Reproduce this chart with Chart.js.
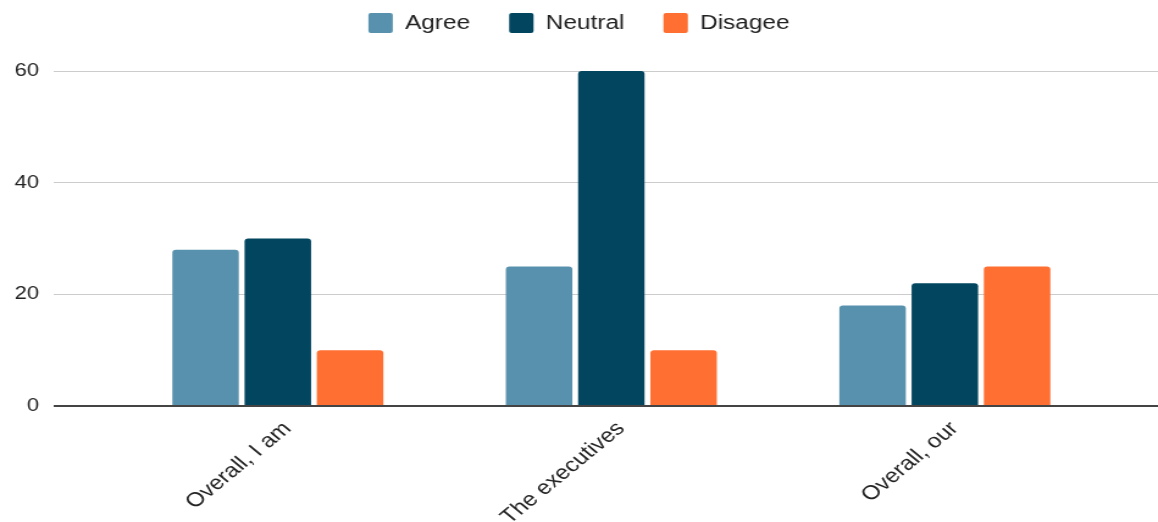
<!DOCTYPE html>
<html>
<head>
<meta charset="utf-8">
<script src="https://cdn.jsdelivr.net/npm/chart.js@4/dist/chart.umd.min.js"></script>
<style>
    html, body { margin: 0; padding: 0; background: #fff; overflow: hidden; }
    /* chart is drawn narrower and widened horizontally */
    #wrap { width: 949px; height: 522px; transform: scaleX(1.2202); transform-origin: 0 0; }
</style>
</head>
<body>
<div id="wrap"><canvas id="surveyChart"></canvas></div>
<script>
// Kết quả khảo sát
const categories = ['Overall, I am', 'The executives', 'Overall, our'];
const agreeValues = [28, 25, 18];
const neutralValues = [30, 60, 22];
const disagreeValues = [10, 10, 25];
const yTicks = [0, 20, 40, 60];

const FONT = "'Liberation Sans', Arial, sans-serif";

// Chừa khoảng trống giữa chú thích và vùng biểu đồ
const legendGap = {
    id: 'legendGap',
    beforeInit(chart) {
        const fit = chart.legend.fit;
        chart.legend.fit = function() {
            fit.call(this);
            this.height = 90;
        };
    }
};

document.addEventListener('DOMContentLoaded', function() {
    const gridColor = function(ctx) {
        return ctx.tick && ctx.tick.value === 0 ? '#444444' : '#cccccc';
    };
    const gridWidth = function(ctx) {
        return ctx.tick && ctx.tick.value === 0 ? 2 : 1;
    };

    const ctx = document.getElementById('surveyChart').getContext('2d');
    new Chart(ctx, {
        type: 'bar',
        data: {
            labels: categories,
            datasets: [
                { label: 'Agree', data: agreeValues, backgroundColor: '#5891ad' },
                { label: 'Neutral', data: neutralValues, backgroundColor: '#01455f' },
                { label: 'Disagee', data: disagreeValues, backgroundColor: '#ff6f31' }
            ]
        },
        options: {
            responsive: true,
            maintainAspectRatio: false,
            animation: false,
            layout: { padding: { left: 0, right: 0, top: -19, bottom: 0 } },
            datasets: {
                bar: {
                    categoryPercentage: 0.65,
                    barPercentage: 0.92,
                    borderRadius: 3,
                    borderSkipped: 'bottom'
                }
            },
            plugins: {
                legend: {
                    position: 'top',
                    labels: {
                        boxWidth: 20,
                        boxHeight: 20,
                        useBorderRadius: true,
                        borderRadius: 2,
                        padding: 32,
                        color: '#222222',
                        font: { family: FONT, size: 20 }
                    }
                },
                tooltip: { enabled: false }
            },
            scales: {
                x: {
                    grid: { display: false },
                    border: { display: false },
                    ticks: {
                        minRotation: 45,
                        maxRotation: 45,
                        labelOffset: 8,
                        color: '#222222',
                        font: { family: FONT, size: 20 }
                    },
                    afterFit: function(scale) {
                        scale.height = 116;
                    }
                },
                y: {
                    min: 0,
                    max: 60,
                    border: { display: false },
                    grid: {
                        color: gridColor,
                        lineWidth: gridWidth,
                        tickLength: 47
                    },
                    afterBuildTicks: function(scale) {
                        scale.ticks = yTicks.map(v => ({ value: v }));
                    },
                    ticks: {
                        padding: 12,
                        color: '#222222',
                        font: { family: FONT, size: 18 }
                    }
                },
                yRight: {
                    position: 'right',
                    min: 0,
                    max: 60,
                    border: { display: false },
                    grid: {
                        drawOnChartArea: false,
                        color: gridColor,
                        lineWidth: gridWidth,
                        tickLength: 38
                    },
                    afterBuildTicks: function(scale) {
                        scale.ticks = yTicks.map(v => ({ value: v }));
                    },
                    ticks: { display: false }
                }
            }
        },
        plugins: [legendGap]
    });
});
</script>
</body>
</html>
